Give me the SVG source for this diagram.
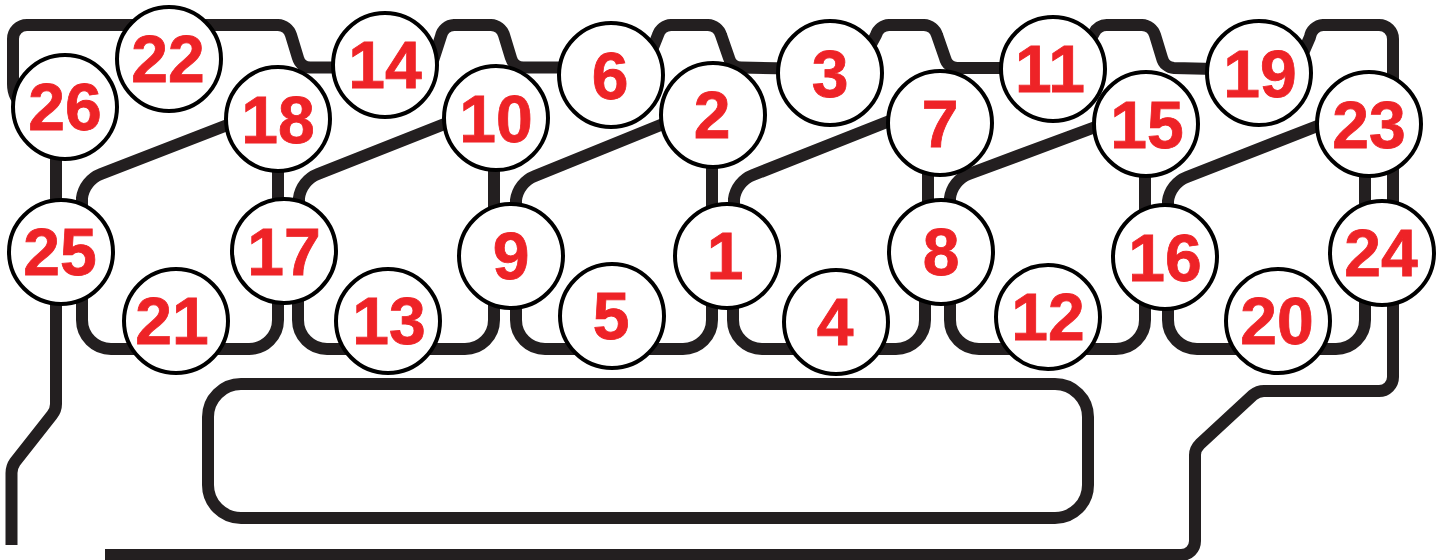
<svg xmlns="http://www.w3.org/2000/svg" width="1443" height="560" viewBox="0 0 1443 560">
<style>
.w{fill:none;stroke:#231f20;stroke-width:12;stroke-linejoin:round}
.n circle{fill:#fff;stroke:#000;stroke-width:4}
.n text{fill:#ee2327;stroke:#ee2327;stroke-width:.8;font-family:"Liberation Sans",Arial,sans-serif;font-weight:700;font-size:66px;text-anchor:middle}
</style>
<rect width="1443" height="560" fill="#fff"/>
<g id="connectors">
<path class="w" d="M24 106Q13 98 13 84V39A14 14 0 0 1 27 25H278A14 14 0 0 1 291 35L298 58A13 13 0 0 0 310 67.500H340"/>
<path class="w" d="M430 70L441 36A14 14 0 0 1 454 25H491A14 14 0 0 1 504 35L511 58A13 13 0 0 0 523 67.500H570"/>
<path class="w" d="M648 60L658 35A14 14 0 0 1 671 25H708A14 14 0 0 1 721 35L729 58A13 13 0 0 0 741 67.500L790 68.500"/>
<path class="w" d="M868 50L876 35A14 14 0 0 1 889 25H924A14 14 0 0 1 937 35L945 58A13 13 0 0 0 957 68H1010"/>
<path class="w" d="M1090 40L1094 33A14 14 0 0 1 1107 25H1142A14 14 0 0 1 1155 35L1162 58A13 13 0 0 0 1174 68L1215 69"/>
<path class="w" d="M1300 60L1310 37A14 14 0 0 1 1323 25H1379A14 14 0 0 1 1393 39V377A14 14 0 0 1 1379 391H1264Q1258 391 1253 395L1200 444Q1195 449 1195 455V541A14 14 0 0 1 1181 555H105"/>
<path class="w" d="M56 150V404Q56 410 52 415L15 462Q11.500 467 11.500 473V545"/>
<path class="w" d="M82 210V198A30 30 0 0 1 101 174L230 124"/>
<path class="w" d="M299 210V198A30 30 0 0 1 318 174L447 123"/>
<path class="w" d="M516 210V200A30 30 0 0 1 535 176L668 122"/>
<path class="w" d="M734 210V199A30 30 0 0 1 753 175L892 120"/>
<path class="w" d="M950 210V198A30 30 0 0 1 969 174L1098 126"/>
<path class="w" d="M1168 210V201A30 30 0 0 1 1187 177L1320 125"/>
<path class="w" d="M278 165V210M494 165V210M712 165V210M928 165V210M1145 165V210M1365 165V210"/>
<path class="w" d="M82 295V320A29 29 0 0 0 111 349H249A29 29 0 0 0 278 320V295"/>
<path class="w" d="M298 295V320A29 29 0 0 0 327 349H465A29 29 0 0 0 494 320V295"/>
<path class="w" d="M516 295V320A29 29 0 0 0 545 349H683A29 29 0 0 0 712 320V295"/>
<path class="w" d="M733 295V320A29 29 0 0 0 762 349H896A29 29 0 0 0 925 320V295"/>
<path class="w" d="M950 295V320A29 29 0 0 0 979 349H1116A29 29 0 0 0 1145 320V295"/>
<path class="w" d="M1168 295V320A29 29 0 0 0 1197 349H1336A29 29 0 0 0 1365 320V295"/>
<rect class="w" x="208" y="384" width="880" height="134" rx="33"/>
</g>
<g id="n26" class="n"><circle cx="65" cy="107" r="52"/><text x="65" y="130">26</text></g>
<g id="n22" class="n"><circle cx="169" cy="59" r="52"/><text x="168" y="82">22</text></g>
<g id="n14" class="n"><circle cx="385" cy="65" r="52"/><text x="385" y="88">14</text></g>
<g id="n18" class="n"><circle cx="278" cy="119" r="52"/><text x="278" y="143">18</text></g>
<g id="n10" class="n"><circle cx="496" cy="118" r="52"/><text x="496" y="142">10</text></g>
<g id="n6" class="n"><circle cx="611" cy="75" r="52"/><text x="610" y="99">6</text></g>
<g id="n2" class="n"><circle cx="713" cy="115" r="52"/><text x="712" y="138">2</text></g>
<g id="n3" class="n"><circle cx="830" cy="73" r="52"/><text x="830" y="97">3</text></g>
<g id="n7" class="n"><circle cx="940" cy="123" r="52"/><text x="940" y="147">7</text></g>
<g id="n11" class="n"><circle cx="1053" cy="69" r="52"/><text x="1050" y="92">11</text></g>
<g id="n15" class="n"><circle cx="1146" cy="124" r="52"/><text x="1147" y="148">15</text></g>
<g id="n19" class="n"><circle cx="1259" cy="73" r="52"/><text x="1260" y="97">19</text></g>
<g id="n23" class="n"><circle cx="1369" cy="124" r="52"/><text x="1369" y="148">23</text></g>
<g id="n25" class="n"><circle cx="61" cy="252" r="52"/><text x="60" y="275">25</text></g>
<g id="n17" class="n"><circle cx="284" cy="251" r="52"/><text x="284" y="275">17</text></g>
<g id="n9" class="n"><circle cx="511" cy="256" r="52"/><text x="511" y="279">9</text></g>
<g id="n1" class="n"><circle cx="727" cy="256" r="52"/><text x="725" y="279">1</text></g>
<g id="n8" class="n"><circle cx="941" cy="252" r="52"/><text x="941" y="275">8</text></g>
<g id="n16" class="n"><circle cx="1165" cy="257" r="52"/><text x="1165" y="281">16</text></g>
<g id="n24" class="n"><circle cx="1382" cy="253" r="52"/><text x="1381" y="276">24</text></g>
<g id="n21" class="n"><circle cx="176" cy="321" r="52"/><text x="172" y="344">21</text></g>
<g id="n13" class="n"><circle cx="388" cy="321" r="52"/><text x="389" y="344">13</text></g>
<g id="n5" class="n"><circle cx="612" cy="316" r="52"/><text x="611" y="339">5</text></g>
<g id="n4" class="n"><circle cx="836" cy="322" r="52"/><text x="835" y="345">4</text></g>
<g id="n12" class="n"><circle cx="1048" cy="317" r="52"/><text x="1048" y="340">12</text></g>
<g id="n20" class="n"><circle cx="1278" cy="321" r="52"/><text x="1277" y="344">20</text></g>
</svg>
